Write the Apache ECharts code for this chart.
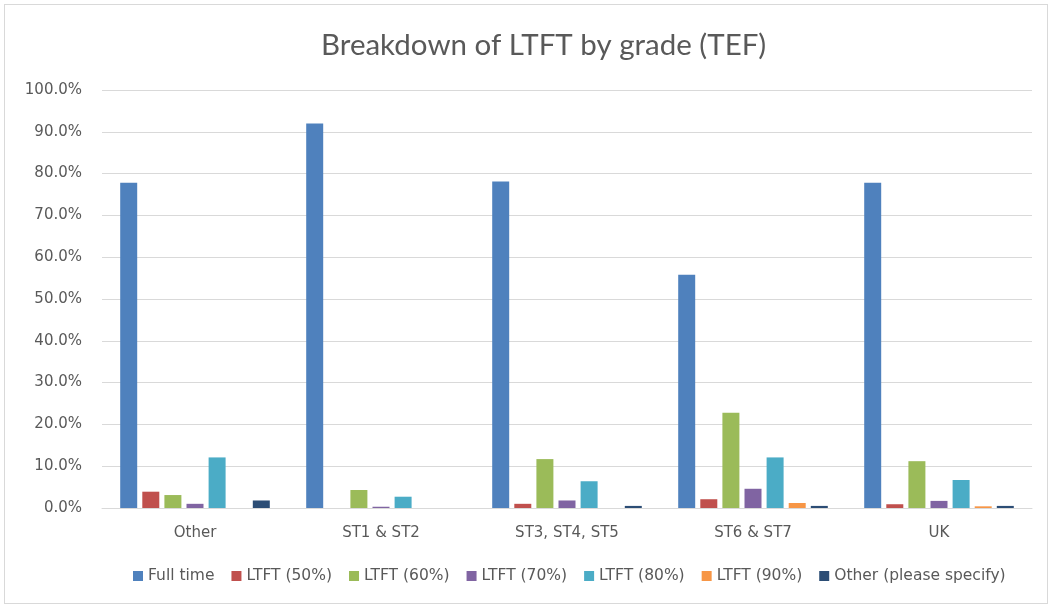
<!DOCTYPE html>
<html>
<head>
<meta charset="utf-8">
<script src="https://cdn.jsdelivr.net/npm/echarts@6/dist/echarts.min.js"></script>
<style>
  html, body { margin: 0; padding: 0; background: #fff; }
  #wrap { position: absolute; left: 4px; top: 4px; width: 1042px; height: 598px; border: 1px solid #d9d9d9; }
  #chart { position: absolute; left: -5px; top: -5px; width: 1052px; height: 608px; }
</style>
</head>
<body>
<div id="wrap"><div id="chart"></div></div>
<script>
const grades = ['Other', 'ST1 & ST2', 'ST3, ST4, ST5', 'ST6 & ST7', 'UK'];
const fullTime = [77.8, 92.0, 78.1, 55.8, 77.8];
const ltft50 = [3.9, 0, 1.0, 2.1, 0.9];
const ltft60 = [3.1, 4.3, 11.7, 22.8, 11.2];
const ltft70 = [1.0, 0.3, 1.8, 4.6, 1.7];
const ltft80 = [12.1, 2.7, 6.4, 12.1, 6.7];
const ltft90 = [0, 0, 0, 1.2, 0.4];
const otherSpec = [1.8, 0, 0.5, 0.5, 0.5];
const yTicks = [0, 10, 20, 30, 40, 50, 60, 70, 80, 90, 100];

const names = ['Full time', 'LTFT (50%)', 'LTFT (60%)', 'LTFT (70%)', 'LTFT (80%)', 'LTFT (90%)', 'Other (please specify)'];
const colors = ['#4f81bd', '#c0504d', '#9bbb59', '#8064a2', '#4bacc6', '#f79646', '#2c4d75'];
const values = [fullTime, ltft50, ltft60, ltft70, ltft80, ltft90, otherSpec];

const txt = '#595959';
const font = '"DejaVu Sans", sans-serif';
const chart = echarts.init(document.getElementById('chart'));

chart.setOption({
  animation: false,
  title: {
    text: 'Breakdown of LTFT by grade (TEF)', left: 316, top: 25,
    textStyle: { color: txt, fontSize: 29.5, fontWeight: 'normal', fontFamily: 'Lato, sans-serif' },
  },
  grid: { left: 102, right: 20, top: 90, bottom: 100 },
  legend: {
    bottom: 19, left: 128, itemWidth: 10, itemHeight: 10, itemGap: 17,
    icon: 'rect',
    textStyle: { color: txt, fontSize: 15.5, fontFamily: font },
    data: names,
  },
  xAxis: {
    type: 'category', data: grades,
    axisLine: { lineStyle: { color: '#d9d9d9' } },
    axisTick: { show: false },
    axisLabel: { color: txt, fontSize: 15, fontFamily: font, margin: 18 },
  },
  yAxis: {
    type: 'value', min: yTicks[0], max: yTicks[yTicks.length - 1], interval: 10,
    axisLine: { show: false }, axisTick: { show: false },
    axisLabel: { color: txt, fontSize: 15, fontFamily: font, margin: 20,
      formatter: (v) => v.toFixed(1) + '%' },
    splitLine: { lineStyle: { color: '#d9d9d9' } },
  },
  series: names.map((n, i) => ({
    name: n, type: 'bar', data: values[i],
    barWidth: 17, barGap: '30%',
    itemStyle: { color: colors[i] },
  })),
});
</script>
</body>
</html>
